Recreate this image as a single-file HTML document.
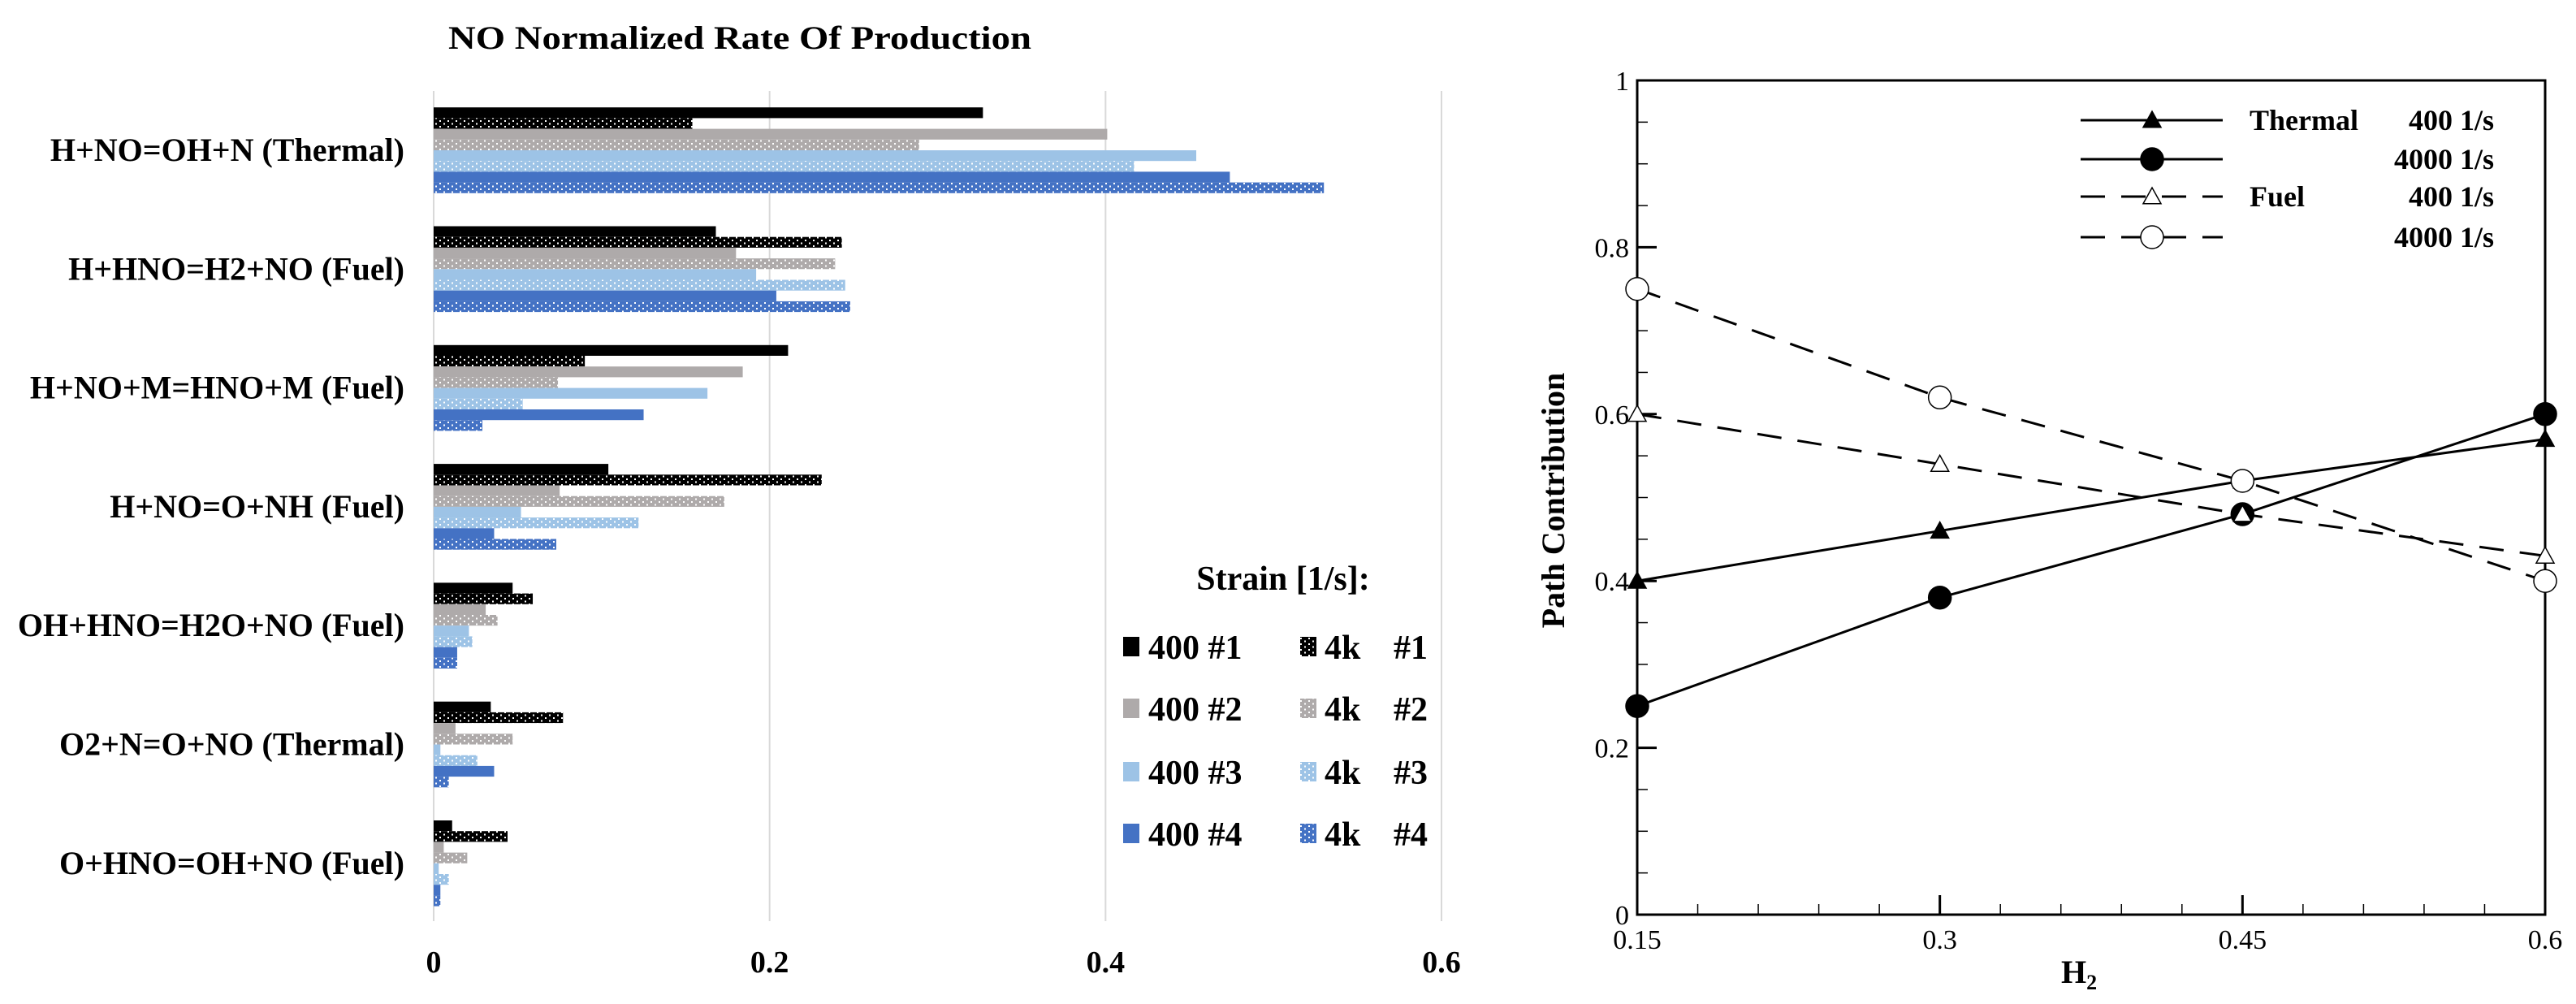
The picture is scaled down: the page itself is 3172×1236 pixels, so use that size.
<!DOCTYPE html>
<html><head><meta charset="utf-8"><style>
html,body{margin:0;padding:0;background:#fff;}
svg{display:block;font-family:"Liberation Serif",serif;}
</style></head><body>
<svg width="3172" height="1236" viewBox="0 0 3172 1236">
<defs>
<pattern id="p0" width="10" height="7" patternUnits="userSpaceOnUse"><rect width="10" height="7" fill="#000"/><rect x="1" y="1" width="2" height="2" fill="#fff"/><rect x="6" y="4.5" width="2" height="2" fill="#fff"/></pattern>
<pattern id="p1" width="10" height="7" patternUnits="userSpaceOnUse"><rect width="10" height="7" fill="#AEAAAA"/><rect x="1" y="1" width="2" height="2" fill="#fff"/><rect x="6" y="4.5" width="2" height="2" fill="#fff"/></pattern>
<pattern id="p2" width="10" height="7" patternUnits="userSpaceOnUse"><rect width="10" height="7" fill="#9DC3E6"/><rect x="1" y="1" width="2" height="2" fill="#fff"/><rect x="6" y="4.5" width="2" height="2" fill="#fff"/></pattern>
<pattern id="p3" width="10" height="7" patternUnits="userSpaceOnUse"><rect width="10" height="7" fill="#4472C4"/><rect x="1" y="1" width="2" height="2" fill="#fff"/><rect x="6" y="4.5" width="2" height="2" fill="#fff"/></pattern>
</defs>
<g id="left"></g>
<g id="right"></g>
</svg>
<script>
const NS='http://www.w3.org/2000/svg';
// ---- bar chart data ----
const categories=['H+NO=OH+N (Thermal)','H+HNO=H2+NO (Fuel)','H+NO+M=HNO+M (Fuel)','H+NO=O+NH (Fuel)','OH+HNO=H2O+NO (Fuel)','O2+N=O+NO (Thermal)','O+HNO=OH+NO (Fuel)'];
const seriesNames=['400 #1','4k #1','400 #2','4k #2','400 #3','4k #3','400 #4','4k #4'];
const s400_1=[0.327,0.168,0.211,0.104,0.047,0.034,0.011];
const s4k_1=[0.154,0.243,0.090,0.231,0.059,0.077,0.044];
const s400_2=[0.401,0.180,0.184,0.075,0.031,0.013,0.006];
const s4k_2=[0.289,0.239,0.074,0.173,0.038,0.047,0.020];
const s400_3=[0.454,0.192,0.163,0.052,0.021,0.004,0.003];
const s4k_3=[0.417,0.245,0.053,0.122,0.023,0.026,0.009];
const s400_4=[0.474,0.204,0.125,0.036,0.014,0.036,0.004];
const s4k_4=[0.530,0.248,0.029,0.073,0.014,0.009,0.004];
const xTicks=[0,0.2,0.4,0.6];
const xTickLabels=['0','0.2','0.4','0.6'];
// ---- line chart data ----
const h2=[0.15,0.3,0.45,0.6];
const thermal400=[0.40,0.46,0.52,0.57];
const thermal4000=[0.25,0.38,0.48,0.60];
const fuel400=[0.60,0.54,0.48,0.43];
const fuel4000=[0.75,0.62,0.52,0.40];
const yTicks=[0,0.2,0.4,0.6,0.8,1];
const yTickLabels=['0','0.2','0.4','0.6','0.8','1'];
const h2Ticks=[0.15,0.3,0.45,0.6];
const h2TickLabels=['0.15','0.3','0.45','0.6'];

function el(tag,attrs,parent,text){const e=document.createElementNS(NS,tag);for(const k in attrs)e.setAttribute(k,attrs[k]);if(text!==undefined)e.textContent=text;parent.appendChild(e);return e;}

// ===== Left bar chart =====
const L=document.getElementById('left');
const bx=v=>534+v*(1775-534)/0.6;
const catCenter=i=>185+i*146.3;
const barH=13.2;
const allSeries=[s400_1,s4k_1,s400_2,s4k_2,s400_3,s4k_3,s400_4,s4k_4];
const fills=['#000','url(#p0)','#AEAAAA','url(#p1)','#9DC3E6','url(#p2)','#4472C4','url(#p3)'];
let t=el('text',{x:911,y:60,'text-anchor':'middle','font-size':40,'font-weight':'bold',textLength:718,lengthAdjust:'spacingAndGlyphs'},L,'NO Normalized Rate Of Production');

xTicks.forEach((v,i)=>{
  if(i>0){const g=el('line',{x1:bx(v),x2:bx(v),y1:112,y2:1134,stroke:'#d9d9d9','stroke-width':2},L);
  }
  const tl=el('text',{x:bx(v),y:1197,'text-anchor':'middle','font-size':38,'font-weight':'bold'},L,xTickLabels[i]);
  
});
let ax=el('line',{x1:534,x2:534,y1:112,y2:1134,stroke:'#d9d9d9','stroke-width':2},L);

categories.forEach((c,i)=>{
  const cy=catCenter(i);
  const lab=el('text',{x:498,y:cy+13,'text-anchor':'end','font-size':40,'font-weight':'bold'},L,c);
  
  allSeries.forEach((s,j)=>{
    const y=cy-4*barH+j*barH;
    const r=el('rect',{x:bx(0),y:y,width:bx(s[i])-bx(0),height:barH,fill:fills[j]},L);
    
    
  });
});
t=el('text',{x:1580,y:726,'text-anchor':'middle','font-size':42,'font-weight':'bold'},L,'Strain [1/s]:');

const legY=[796,872,950,1026];
const leftTxt=['400 #1','400 #2','400 #3','400  #4'];
for(let k=0;k<4;k++){
  const y=legY[k];
  let r=el('rect',{x:1383,y:y-12,width:20,height:24,fill:fills[2*k]},L);
  
  let tx=el('text',{x:1414,y:y+15,'font-size':42,'font-weight':'bold','xml:space':'preserve'},L,leftTxt[k]);
  
  r=el('rect',{x:1601,y:y-12,width:20,height:24,fill:fills[2*k+1]},L);
  
  tx=el('text',{x:1631,y:y+15,'font-size':42,'font-weight':'bold'},L,'4k');
  
  tx=el('text',{x:1716,y:y+15,'font-size':42,'font-weight':'bold'},L,'#'+(k+1));
  
}

// ===== Right line chart =====
const R=document.getElementById('right');
const X0=2016,X1=3134,Y0=1126,Y1=99;
const px=v=>X0+(v-0.15)/(0.6-0.15)*(X1-X0);
const py=v=>Y0-v*(Y0-Y1);
let fr=el('rect',{x:X0,y:Y1,width:X1-X0,height:Y0-Y1,fill:'none',stroke:'#000','stroke-width':3},R);

for(let k=0;k<=20;k++){const v=k*0.05;const len=(k%4==0)?24:13;
  el('line',{x1:X0,x2:X0+len,y1:py(v),y2:py(v),stroke:'#000','stroke-width':(k%4==0)?3:1.5},R);}
for(let k=0;k<=15;k++){const v=0.15+k*0.03;const len=(k%5==0)?24:13;
  el('line',{x1:px(v),x2:px(v),y1:Y0,y2:Y0-len,stroke:'#000','stroke-width':(k%5==0)?3:1.5},R);}
yTicks.forEach((v,i)=>{const tl=el('text',{x:2006,y:py(v)+12,'text-anchor':'end','font-size':34},R,yTickLabels[i]);
  });
h2Ticks.forEach((v,i)=>{const tl=el('text',{x:px(v),y:1168,'text-anchor':'middle','font-size':34},R,h2TickLabels[i]);
  });
t=el('text',{x:2560,y:1210,'text-anchor':'middle','font-size':40,'font-weight':'bold'},R,'H');

el('tspan',{'font-size':26,dy:8},t,'2');
t=el('text',{x:0,y:0,'text-anchor':'middle','font-size':40,'font-weight':'bold',transform:'translate(1926,616) rotate(-90)'},R,'Path Contribution');


function marker(g,type,x,y){
  if(type=='tri'||type=='otri'){
    const s=11;el('polygon',{points:`${x},${y-s} ${x-s},${y+s*0.8} ${x+s},${y+s*0.8}`,fill:type=='tri'?'#000':'#fff',stroke:'#000','stroke-width':1.5},g);
  } else el('circle',{cx:x,cy:y,r:type=='circ'?14:14,fill:type=='circ'?'#000':'#fff',stroke:'#000','stroke-width':1.5},g);
}
const lines=[[thermal400,'tri',null,'series-thermal-400'],[thermal4000,'circ',null,'series-thermal-4000'],[fuel400,'otri','30 20','series-fuel-400'],[fuel4000,'ocirc','30 20','series-fuel-4000']];
lines.forEach(([d,m,dash,name])=>{
  const g=el('g',{},R);
  const pts=d.map((v,i)=>px(h2[i])+','+py(v)).join(' ');
  const a={points:pts,fill:'none',stroke:'#000','stroke-width':3};if(dash)a['stroke-dasharray']=dash;
  el('polyline',a,g);
  d.forEach((v,i)=>marker(g,m,px(h2[i]),py(v)));
});
// legend
const lg=el('g',{},R);
const lrows=[[148,'tri',null,'Thermal','400  1/s'],[196,'circ',null,'','4000  1/s'],[242,'otri','30 20','Fuel','400 1/s'],[292,'ocirc','30 20','','4000  1/s']];
lrows.forEach(([y,m,dash,a,b])=>{
  const e=el('g',{},lg);
  const at={x1:2562,x2:2737,y1:y,y2:y,stroke:'#000','stroke-width':3};if(dash)at['stroke-dasharray']=dash;
  el('line',at,e);marker(e,m,2650,y);
  if(a)el('text',{x:2770,y:y+12,'font-size':36,'font-weight':'bold'},e,a);
  el('text',{x:3071,y:y+12,'text-anchor':'end','font-size':36,'font-weight':'bold','xml:space':'preserve'},e,b);
});
</script>
</body></html>
